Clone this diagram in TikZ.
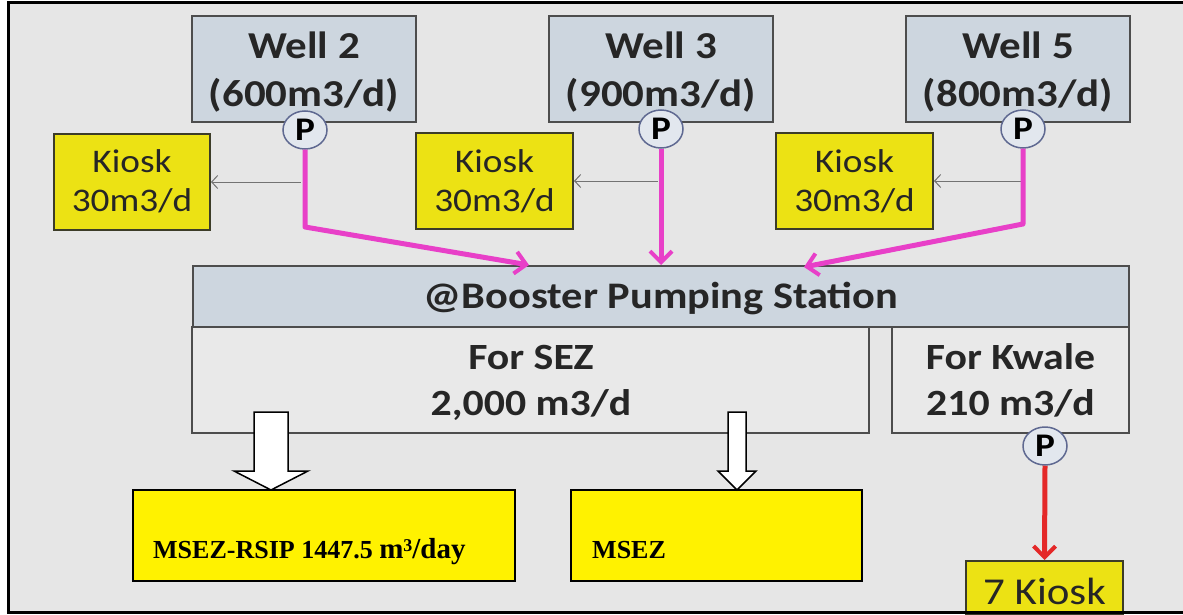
\documentclass[tikz,border=0pt]{standalone}
\usepackage{fontspec}
\setmainfont{Carlito}[FakeStretch=1.13]
\newfontfamily\tnr{Liberation Serif}
\usetikzlibrary{shapes.geometric,arrows.meta}
\definecolor{bgc}{RGB}{230,230,230}
\definecolor{wellc}{RGB}{205,214,223}
\definecolor{edgec}{RGB}{77,77,77}
\definecolor{kioskc}{RGB}{236,226,20}
\definecolor{kedge}{RGB}{60,60,40}
\definecolor{pinkc}{RGB}{232,64,200}
\definecolor{redc}{RGB}{228,40,40}
\definecolor{pumpedge}{RGB}{95,105,145}
\definecolor{pumpfill}{RGB}{226,231,238}
\definecolor{lowc}{RGB}{233,233,233}
\tikzset{
  wellbox/.style={draw=edgec, fill=wellc, line width=2pt, inner sep=0pt},
  lowbox/.style={draw=edgec, fill=lowc, line width=2pt, inner sep=0pt},
  kioskbox/.style={draw=kedge, fill=kioskc, line width=2pt, inner sep=0pt},
  msezbox/.style={draw=black, fill=yellow, line width=1.5pt, inner sep=0pt},
  welltxt/.style={anchor=base, inner sep=0pt, font=\bfseries\fontsize{38}{48}\selectfont, text=black!85},
  lowtxt/.style={anchor=base, inner sep=0pt, font=\bfseries\fontsize{37}{44}\selectfont, text=black!85},
  kiosktxt/.style={anchor=base, inner sep=0pt, font=\fontsize{33}{40}\selectfont, text=black!85},
  pump/.style={ellipse, draw=pumpedge, fill=pumpfill, line width=1.5pt, minimum width=44pt, minimum height=38pt, inner sep=0pt, font=\bfseries\fontsize{33}{33}\selectfont},
  pinkarr/.style={draw=pinkc, line width=5pt, line join=round, -{Straight Barb[length=11pt,width=22pt,line width=4pt]}},
  redarr/.style={draw=redc, line width=5pt, -{Straight Barb[length=11pt,width=22pt,line width=4pt]}},
  grayarr/.style={draw=black!55, line width=1pt, -{Straight Barb[length=6pt,width=13pt]}},
  blockarr/.style={draw=black, fill=white, line width=1.5pt, line join=miter}
}
\begin{document}
\begin{tikzpicture}[x=1pt,y=-1pt]
\useasboundingbox (0,0) rectangle (1183,615);
\fill[white] (0,0) rectangle (1183,615);
\fill[bgc] (8,3) rectangle (1183,612);

% wells
\node[wellbox, minimum width=224pt, minimum height=106pt] (w2) at (304,69) {};
\node[wellbox, minimum width=224pt, minimum height=106pt] (w3) at (661,69) {};
\node[wellbox, minimum width=224pt, minimum height=106pt] (w5) at (1018,69) {};
\node[welltxt] (w2a) at (304,59) {Well 2};
\node[welltxt] (w2b) at (304,107) {(600m3/d)};
\node[welltxt] (w3a) at (661,59) {Well 3};
\node[welltxt] (w3b) at (661,107) {(900m3/d)};
\node[welltxt] (w5a) at (1018,59) {Well 5};
\node[welltxt] (w5b) at (1018,107) {(800m3/d)};

% kiosks
\node[kioskbox, minimum width=156pt, minimum height=96pt] (k1) at (132,182) {};
\node[kioskbox, minimum width=157pt, minimum height=96pt] (k2) at (494.5,181) {};
\node[kioskbox, minimum width=157pt, minimum height=96pt] (k3) at (854.5,181) {};
\node[kiosktxt] (k1a) at (132,172) {Kiosk};
\node[kiosktxt] (k1b) at (132,211) {30m3/d};
\node[kiosktxt] (k2a) at (494.5,172) {Kiosk};
\node[kiosktxt] (k2b) at (494.5,211) {30m3/d};
\node[kiosktxt] (k3a) at (854.5,172) {Kiosk};
\node[kiosktxt] (k3b) at (854.5,211) {30m3/d};

% booster station
\node[wellbox, minimum width=936pt, minimum height=61pt] (bps) at (660.5,296) {};
\node[welltxt, font=\bfseries\fontsize{37.5}{44}\selectfont] (bpst) at (661,308) {@Booster Pumping Station};
\node[lowbox, minimum width=677pt, minimum height=106pt] (sez) at (530.5,380) {};
\node[lowbox, minimum width=237pt, minimum height=106pt] (kwl) at (1010.5,380) {};
\node[lowtxt] (seza) at (531,369) {For SEZ};
\node[lowtxt] (sezb) at (531,415) {2,000 m3/d};
\node[lowtxt] (kwla) at (1010.5,369) {For Kwale};
\node[lowtxt] (kwlb) at (1010.5,415) {210 m3/d};

% gray kiosk feeds
\coordinate (g2) at (301,182);
\coordinate (g3) at (658,181);
\coordinate (g5) at (1021,181);
\draw[grayarr] (g2) -- (k1.east);
\draw[grayarr] (g3) -- (k2.east);
\draw[grayarr] (g5) -- (k3.east);

% pink flows
\coordinate (b2) at (305,227);
\coordinate (t2) at (529,265);
\coordinate (t3) at (661,265);
\coordinate (b5) at (1023,224);
\coordinate (t5) at (804,267);
\node[pump] (p2) at (305,130) {P};
\node[pump] (p3) at (661,129) {P};
\node[pump] (p5) at (1023,129) {P};
\draw[pinkarr] (p2.south) -- (b2) -- (t2);
\draw[pinkarr] (p3.south) -- (t3);
\draw[pinkarr] (p5.south) -- (b5) -- (t5);

% kwale pump and 7 kiosk
\node[kioskbox, minimum width=157pt, minimum height=54pt] (k7) at (1044.5,588) {};
\node[kiosktxt, font=\fontsize{38}{44}\selectfont] (k7t) at (1044.5,604) {7 Kiosk};
\node[pump] (p6) at (1045,446) {P};
\draw[redarr] (p6.south) -- (k7.north);

% MSEZ boxes
\node[msezbox, minimum width=382pt, minimum height=91pt] (m1) at (324,535.5) {};
\node[msezbox, minimum width=291pt, minimum height=91pt] (m2) at (716.5,535.5) {};
\node[anchor=base west, inner sep=0pt] (m1t) at (153,558) {\tnr\bfseries\fontsize{26}{28}\selectfont MSEZ-RSIP 1447.5 {\fontsize{29}{30}\selectfont m\raisebox{7pt}{\fontsize{18}{18}\selectfont 3}/day}};
\node[anchor=base west, inner sep=0pt] (m2t) at (592,558) {\tnr\bfseries\fontsize{26}{28}\selectfont MSEZ};

% block arrows
\draw[blockarr] (254,412) -- (288,412) -- (288,471) -- (308,471) -- (271,490) -- (234,471) -- (254,471) -- cycle;
\draw[blockarr] (728,412) -- (746,412) -- (746,471) -- (756,471) -- (737,490) -- (718,471) -- (728,471) -- cycle;

% frame
\draw[black, line width=3pt] (1183,3) -- (8,3) -- (8,612) -- (1183,612);
\end{tikzpicture}
\end{document}
